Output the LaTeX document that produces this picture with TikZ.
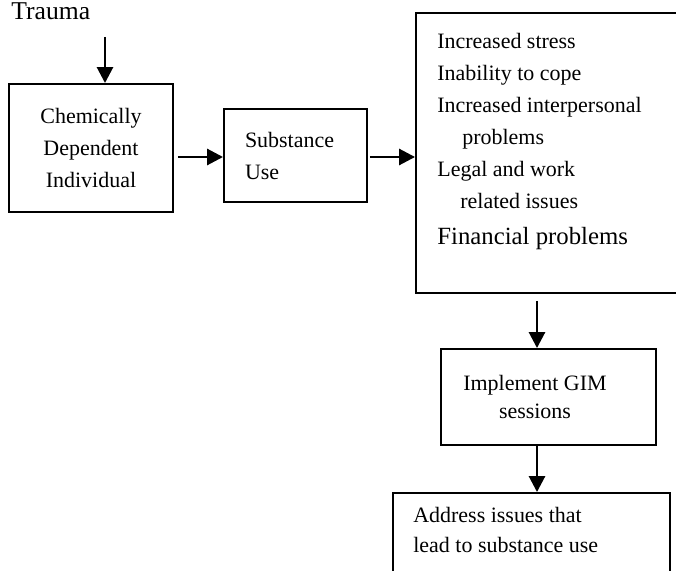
\documentclass[tikz,border=0pt]{standalone}
\usepackage{fontspec}
\setmainfont{Liberation Serif}
\usetikzlibrary{arrows.meta}
\newcommand{\bodyfont}{\fontsize{12.5}{18.2}\selectfont}
\tikzset{
  box/.style={draw,line width=1.1pt,inner sep=0pt,font=\bodyfont},
  txt/.style={inner sep=0pt,align=left,font=\bodyfont},
  ar/.style={-{Triangle[length=0.32cm,width=0.32cm]},line width=1.6pt},
}
\begin{document}
\begin{tikzpicture}[x=0.02cm,y=-0.02cm]
\useasboundingbox (0,0) rectangle (676,571);
\clip (0,0) rectangle (676,571);
% top row
\node[txt,anchor=base west,font=\fontsize{14.6}{18}\selectfont] (trauma) at (11,20) {Trauma};
\node[box,align=center,minimum width=3.28cm,minimum height=2.56cm] (chem) at (91,148)
  {Chemically\\Dependent\\Individual};
\node[box,align=left,text width=2.02cm,inner xsep=0.42cm,minimum height=1.86cm] (use) at (295.5,155.5)
  {Substance\\Use};
\node[box,minimum width=5.48cm,minimum height=5.6cm] (effects) at (553,153) {};
\node[txt,anchor=base west] (effectstext) at (437,244)
  {Increased stress\\
   Inability to cope\\
   Increased interpersonal\\
   \hspace*{0.5cm}problems\\
   Legal and work\\
   \hspace*{0.46cm}related issues\\[2pt]
   {\fontsize{14.1}{18.2}\selectfont Financial problems}};

% right column
\node[box,align=center,minimum width=4.3cm,minimum height=1.92cm,
      font=\fontsize{12.5}{15.9}\selectfont] (gim) at (548.5,397)
  {Implement GIM\hspace*{0.54cm}\\sessions\hspace*{0.54cm}};
\node[box,minimum width=5.54cm,minimum height=2.6cm] (address) at (531.5,558) {};
\node[txt,anchor=base west,font=\fontsize{12.5}{17}\selectfont] (addresstext) at (413,552)
  {Address issues that\\lead to substance use};

% arrows
\coordinate (in) at (105,37);
\coordinate (mid) at (0,157);
\coordinate (spine) at (537,0);
\draw[ar] (in) -- (in |- chem.north);
\draw[ar,shorten <=0.08cm] (chem.east |- mid) -- (use.west |- mid);
\draw[ar,shorten <=0.04cm] (use.east |- mid) -- (effects.west |- mid);
\draw[ar,shorten <=0.14cm] (effects.south -| spine) -- (gim.north -| spine);
\draw[ar] (gim.south -| spine) -- (address.north -| spine);
\end{tikzpicture}
\end{document}
